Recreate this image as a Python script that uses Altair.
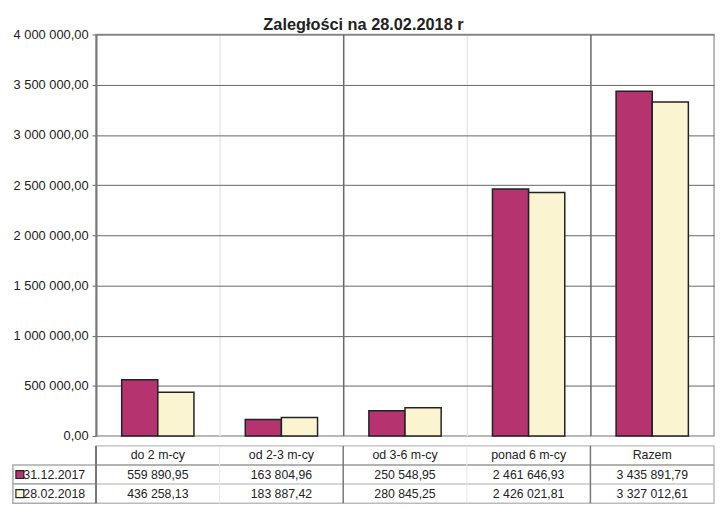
import altair as alt
import pandas as pd

categories = ["do 2 m-cy", "od 2-3 m-cy", "od 3-6 m-cy", "ponad 6 m-cy", "Razem"]
series = ["31.12.2017", "28.02.2018"]
values_2017 = [559890.95, 163804.96, 250548.95, 2461646.93, 3435891.79]
values_2018 = [436258.13, 183887.42, 280845.25, 2426021.81, 3327012.61]
y_ticks = [0, 500000, 1000000, 1500000, 2000000, 2500000, 3000000, 3500000, 4000000]
title_text = "Zaległości na 28.02.2018 r"

colors = ["#B5346F", "#FAF5D0"]
FONT = "Liberation Sans"


def pl(v):
    return f"{v:,.2f}".replace(",", " ").replace(".", ",")


rows = []
for s, vals in zip(series, [values_2017, values_2018]):
    for c, v in zip(categories, vals):
        rows.append({"cat": c, "series": s, "value": v})
df = pd.DataFrame(rows)

row_order = ["header"] + series
table_rows = [{"cat": c, "row": "header", "text": c, "fs": 12.5} for c in categories]
for s, vals in zip(series, [values_2017, values_2018]):
    for c, v in zip(categories, vals):
        table_rows.append({"cat": c, "row": s, "text": pl(v), "fs": 12.4})
df_table = pd.DataFrame(table_rows)

dark_cols = {categories[0]: ("#777777", 2), categories[2]: ("#777777", 1.5), categories[4]: ("#777777", 1.5)}
vlines = pd.DataFrame([
    {"cat": c, "c": dark_cols.get(c, ("#e8e8e8", 1))[0], "w": dark_cols.get(c, ("#e8e8e8", 1))[1]}
    for c in categories
])
hlines = pd.DataFrame([
    {"row": series[0], "c": "#999999", "w": 1.5},
    {"row": series[1], "c": "#c8c8c8", "w": 1.5},
])

x_scale = alt.Scale(domain=categories, paddingInner=0, paddingOuter=0)
color_scale = alt.Scale(domain=series, range=colors)

W = 625
H = 406
TH = 58
LW = 84

bars = alt.Chart(df).mark_bar(stroke="#222222", strokeWidth=1.5).encode(
    x=alt.X("cat:N", sort=categories, scale=x_scale,
            axis=alt.Axis(labels=False, ticks=False, domain=False, title=None, grid=True,
                          bandPosition=0, minExtent=0, maxExtent=0,
                          gridColor=alt.condition("datum.value == 'od 3-6 m-cy' || datum.value == 'Razem'",
                                                  alt.value("#666666"), alt.value("#e8e8e8")),
                          gridWidth=1.5)),
    xOffset=alt.XOffset("series:N", sort=series,
                        scale=alt.Scale(domain=series, paddingInner=0, paddingOuter=0.71)),
    y=alt.Y("value:Q", scale=alt.Scale(domain=[0, 4000000]),
            axis=alt.Axis(values=y_ticks, title=None,
                          labelExpr="replace(replace(format(datum.value, ',.2f'), regexp(',', 'g'), ' '), '.', ',')",
                          gridColor=alt.condition("datum.value == 0", alt.value("#bbbbbb"), alt.value("#666666")),
                          tickColor="#666666", tickSize=4, domain=True, domainColor="#777777", domainWidth=2,
                          labelFontSize=13, labelColor="#222222", labelPadding=4,
                          minExtent=LW, maxExtent=LW)),
    color=alt.Color("series:N", scale=color_scale, legend=None),
).properties(width=W, height=H, view=alt.ViewBackground(stroke="#a0a0a0", strokeWidth=1.5))

tx = alt.X("cat:N", sort=categories, scale=x_scale, axis=None)
ty_scale = alt.Scale(domain=row_order, paddingInner=0, paddingOuter=0)
ty_axis = alt.Axis(title=None, ticks=False, domain=False, grid=False, labelAlign="left",
                   labelPadding=74, labelFontSize=12.5, labelColor="#222222",
                   labelExpr="datum.value == 'header' ? '' : datum.value",
                   minExtent=LW, maxExtent=LW)

df_lab = pd.DataFrame({"row": series})
lab_rect = alt.Chart(df_lab).mark_rect(fill="white", stroke="#aaaaaa", strokeWidth=1.5).encode(
    x=alt.value(-LW), x2=alt.value(0),
    y=alt.Y("row:N", sort=row_order, scale=ty_scale, axis=ty_axis),
)
lab_sq = alt.Chart(df_lab).mark_square(size=64, stroke="#222222", strokeWidth=1.2, opacity=1).encode(
    x=alt.value(-77),
    y=alt.Y("row:N", sort=row_order, scale=ty_scale, axis=ty_axis),
    color=alt.Color("row:N", scale=color_scale, legend=None),
)
table_text = alt.Chart(df_table).mark_text(color="#222222", font=FONT).encode(
    x=tx,
    y=alt.Y("row:N", sort=row_order, scale=ty_scale, axis=ty_axis),
    text="text:N",
    size=alt.Size("fs:Q", scale=None),
)
table_v = alt.Chart(vlines).mark_rule().encode(
    x=alt.X("cat:N", sort=categories, scale=x_scale, axis=None, bandPosition=0),
    color=alt.Color("c:N", scale=None),
    strokeWidth=alt.StrokeWidth("w:Q", scale=None),
)
table_h = alt.Chart(hlines).mark_rule().encode(
    y=alt.Y("row:N", sort=row_order, scale=ty_scale, axis=ty_axis, bandPosition=0),
    color=alt.Color("c:N", scale=None),
    strokeWidth=alt.StrokeWidth("w:Q", scale=None),
)
table = alt.layer(lab_rect, table_h, table_v, lab_sq, table_text).properties(
    width=W, height=TH, view=alt.ViewBackground(stroke="#bbbbbb", strokeWidth=1.5)
)

chart = alt.vconcat(bars, table, spacing=0).properties(
    title=alt.Title(title_text, fontSize=16.5, fontWeight="bold", font=FONT, color="#222222",
                    anchor="middle", offset=-6),
    padding={"left": 3, "top": 6, "right": 0, "bottom": 0},
    background="white",
).configure(font=FONT).configure_concat(spacing=0)

chart.save("out.html", embed_options={"renderer": "svg", "actions": False})
